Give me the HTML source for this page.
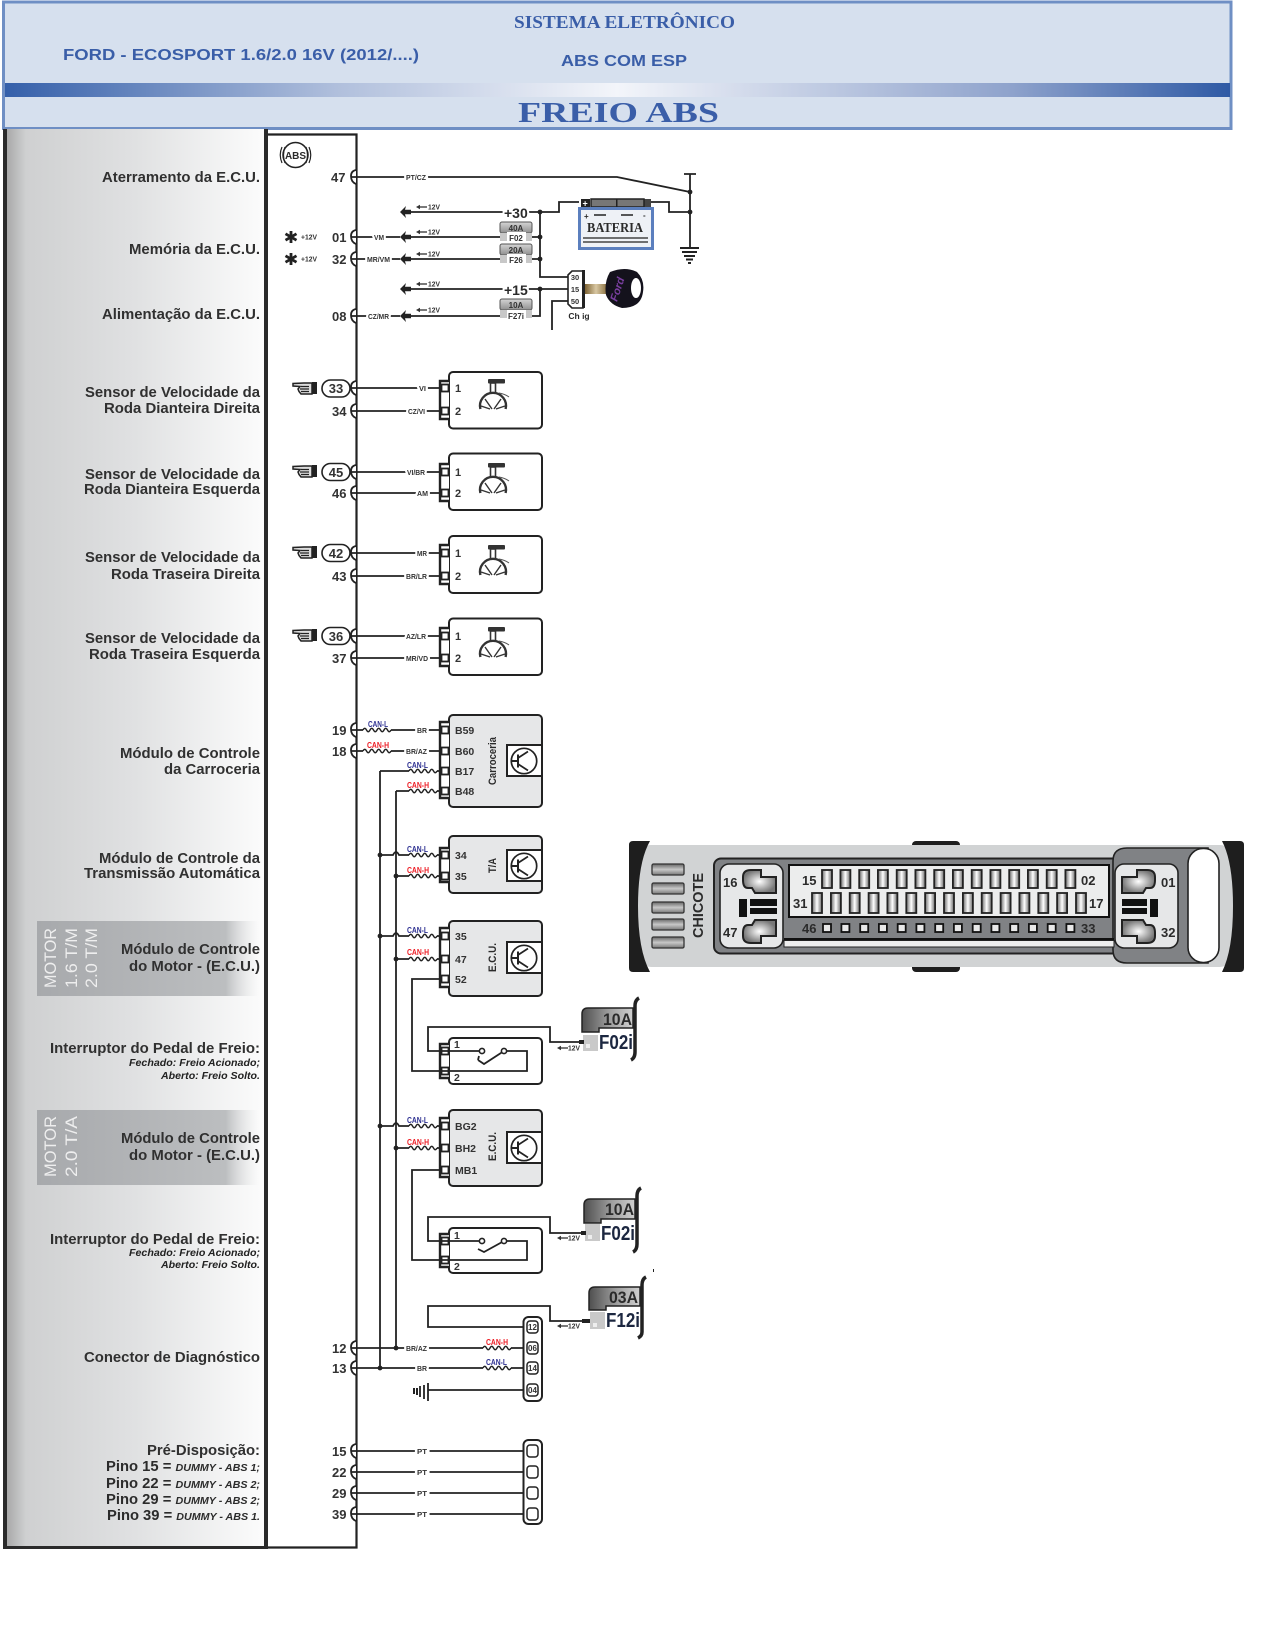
<!DOCTYPE html>
<html><head><meta charset="utf-8"><title>Freio ABS</title>
<style>
html,body{margin:0;padding:0;background:#fff}
svg{display:block}
text{font-family:"Liberation Sans",sans-serif;font-weight:bold;fill:#2b2b2b}
.s{font-family:"Liberation Serif",serif;fill:#3a5ea8}
.h{fill:#3a5ea8}
.l{font-size:14.5px;text-anchor:end;fill:#303030}
.i{font-size:10px;font-style:italic;text-anchor:end;fill:#222}
.p{font-size:13px;fill:#333}
.w{font-size:7.5px;paint-order:stroke;stroke:#fff;stroke-width:5px;fill:#333}
.v{font-size:7.5px;fill:#333}
.m{font-size:11px;fill:#333}
.r{font-size:10.5px;fill:#333}
.cl{font-size:8px;fill:#2e3192}
.ch{font-size:8px;fill:#ed1c24}
.f{font-size:8px;fill:#333}
.b{font-size:17px;fill:#2b2b2b}
.n{font-size:20px;fill:#1c2740}
.mo{font-size:17px;font-weight:normal;fill:#eeeeee}
.c{font-size:13px;fill:#2b2b2b}
.wr{fill:none;stroke:#222;stroke-width:1.8}
</style></head><body>
<svg width="1263" height="1644" viewBox="0 0 1263 1644" xmlns="http://www.w3.org/2000/svg">
<defs>
<linearGradient id="band" x1="0" x2="1" y1="0" y2="0"><stop offset="0" stop-color="#3560aa"/><stop offset=".27" stop-color="#b0bfdc"/><stop offset=".5" stop-color="#f3f5fa"/><stop offset=".82" stop-color="#8fa3cc"/><stop offset="1" stop-color="#2f5aa5"/></linearGradient>
<linearGradient id="panel" x1="0" x2="1" y1="0" y2="0"><stop offset="0" stop-color="#a5a5a5"/><stop offset=".08" stop-color="#cfd0d1"/><stop offset=".5" stop-color="#e0e1e2"/><stop offset="1" stop-color="#fcfcfc"/></linearGradient>
<linearGradient id="mot" x1="0" x2="1" y1="0" y2="0"><stop offset="0" stop-color="#a7a9ac"/><stop offset=".85" stop-color="#bcbec0"/><stop offset="1" stop-color="#e4e5e6" stop-opacity="0"/></linearGradient>
<linearGradient id="fz" x1="0" x2="0" y1="0" y2="1"><stop offset="0" stop-color="#d5d5d5"/><stop offset="1" stop-color="#8f8f8f"/></linearGradient>
<linearGradient id="fb" x1="0" x2="1" y1="0" y2="0"><stop offset="0" stop-color="#4f4f4f"/><stop offset=".55" stop-color="#a0a0a0"/><stop offset="1" stop-color="#d0d0d0"/></linearGradient>
<linearGradient id="key" x1="0" x2="1" y1="0" y2="0"><stop offset="0" stop-color="#7d6233"/><stop offset=".5" stop-color="#d8c7a2"/><stop offset="1" stop-color="#8a7040"/></linearGradient>
<linearGradient id="pin" x1="0" x2="1" y1="0" y2="0"><stop offset="0" stop-color="#6a6a6a"/><stop offset=".5" stop-color="#ffffff"/><stop offset="1" stop-color="#6a6a6a"/></linearGradient>
<linearGradient id="slot" x1="0" x2="0" y1="0" y2="1"><stop offset="0" stop-color="#666"/><stop offset=".5" stop-color="#c8c8c8"/><stop offset="1" stop-color="#777"/></linearGradient>
<radialGradient id="sock"><stop offset="0" stop-color="#ffffff"/><stop offset="1" stop-color="#777"/></radialGradient>
<path id="notch" d="M356-7Q351-6 351-1Q351 5 356 7" fill="#fff" stroke="#222" stroke-width="1.8"/>
<path id="wave" d="M0 0q1.75-3.4 3.5 0t3.5 0 3.5 0 3.5 0 3.5 0 3.5 0 3.5 0 3.5 0" fill="none" stroke="#222" stroke-width="1.4"/>
<polygon id="arw" points="0,0 6,-6 5,-2.200 11,-2.200 11,2.200 5,2.200 6,6" fill="#222"/>
<circle id="dot" r="2.400" fill="#222"/>
<g id="a12"><path d="M2 0H11" stroke="#333" stroke-width="1.300"/><polygon points="0,0 4,-2.200 4,2.200" fill="#333"/></g>
<path id="star" d="M0-6V6M-5.500-3.200L5.500 3.200M-5.500 3.200L5.500-3.200" stroke="#222" stroke-width="2.800"/>
<g id="hand"><rect x="19" y="0" width="5" height="12" fill="#222"/><path d="M19 1H11L0 1.500V4L7 4.500 5 7 6 9.500 8 12H19Z" fill="#ddd" stroke="#222" stroke-width="1.500"/><path d="M8 4.500H16M7 7H16M8 9.500H16" stroke="#222" stroke-width="1.200"/></g>
<g id="wheel"><rect x="-5" y="0" width="17" height="4.500" fill="#333" rx="1"/><rect x="-2.500" y="4" width="5" height="10" fill="#fff" stroke="#333" stroke-width="1.600"/><path d="M-12.600 30A13 13 0 1 1 12.600 30" fill="#fff" stroke="#333" stroke-width="2.400"/><path d="M-8 20L-1 30M8 20L1 30M-12 27L-3 30M12 27L3 30" stroke="#333" stroke-width="1.400"/><path d="M6 14Q12 15 16 18" fill="none" stroke="#555" stroke-width="1"/></g>
<g id="trans"><rect x="0" y="0" width="35" height="31" fill="#fff" stroke="#222" stroke-width="2"/><circle cx="17" cy="16" r="12.700" fill="#fff" stroke="#222" stroke-width="1.700"/><path d="M4.500 16H11M11 9.500V22.500" fill="none" stroke="#222" stroke-width="2"/><path d="M11 13L21 6.500M11 19L21 25.500" fill="none" stroke="#222" stroke-width="1.700"/></g>
<rect id="pn" x="-5" y="0" width="10" height="18" fill="url(#pin)" stroke="#222" stroke-width="1.800"/>
<rect id="pb" x="-5" y="0" width="10" height="20" fill="url(#pin)" stroke="#222" stroke-width="1.800"/>
<rect id="ps" x="-4" y="0" width="8" height="8" fill="#e8e8e8" stroke="#111" stroke-width="1.800"/>
<rect id="sl" x="652" width="32" height="11" rx="1.500" fill="url(#slot)" stroke="#333" stroke-width="1.300"/>
<path id="sk" d="M743 877Q743 870 751 870H761V877H776V893H755L752 888H748Q743 888 743 880Z" fill="url(#sock)" stroke="#222" stroke-width="2"/>
<g id="fs"><rect x="0" y="0" width="32" height="11" rx="2" fill="url(#fz)" stroke="#555"/><rect x="0" y="11" width="7" height="8" fill="#c8c8c8"/><rect x="26" y="11" width="6" height="8" fill="#c8c8c8"/></g>
<rect id="cp" x="-4.500" y="-3.500" width="7" height="7" fill="#fff" stroke="#222" stroke-width="1.800"/>
</defs>

<!-- header -->
<rect x="3.500" y="2" width="1227.500" height="126.500" fill="#d6e0ee" stroke="#6f8fc4" stroke-width="3"/>
<rect x="5" y="83" width="1225" height="14" fill="url(#band)"/>
<text class="s" x="514" y="28" font-size="18" textLength="221" lengthAdjust="spacingAndGlyphs">SISTEMA ELETRÔNICO</text>
<text class="h" x="63" y="60" font-size="16" textLength="356" lengthAdjust="spacingAndGlyphs">FORD - ECOSPORT 1.6/2.0 16V (2012/....)</text>
<text class="h" x="561" y="66" font-size="16" textLength="126" lengthAdjust="spacingAndGlyphs">ABS COM ESP</text>
<text class="s" x="518" y="122" font-size="28" textLength="201" lengthAdjust="spacingAndGlyphs">FREIO ABS</text>

<!-- left panel -->
<rect x="5" y="129" width="260" height="1418" fill="url(#panel)"/>
<rect x="3" y="129" width="4" height="1420" fill="#2a2a2a"/>
<rect x="264" y="129" width="4" height="1420" fill="#2a2a2a"/>
<rect x="3" y="1546" width="265" height="3" fill="#2a2a2a"/>
<path d="M268 134.500H356.500V1547.500H268" fill="none" stroke="#222" stroke-width="2.200"/>

<rect x="37" y="921" width="222" height="75" fill="url(#mot)"/>
<rect x="37" y="1110" width="222" height="75" fill="url(#mot)"/>
<text class="mo" transform="translate(56,988) rotate(-90)" textLength="60" lengthAdjust="spacingAndGlyphs">MOTOR</text>
<text class="mo" transform="translate(77,988) rotate(-90)" textLength="60" lengthAdjust="spacingAndGlyphs">1.6 T/M</text>
<text class="mo" transform="translate(97,988) rotate(-90)" textLength="60" lengthAdjust="spacingAndGlyphs">2.0 T/M</text>
<text class="mo" transform="translate(56,1177) rotate(-90)" textLength="61" lengthAdjust="spacingAndGlyphs">MOTOR</text>
<text class="mo" transform="translate(77,1177) rotate(-90)" textLength="61" lengthAdjust="spacingAndGlyphs">2.0 T/A</text>

<text class="l" x="260" y="182" textLength="158" lengthAdjust="spacingAndGlyphs">Aterramento da E.C.U.</text>
<text class="l" x="260" y="254" textLength="131" lengthAdjust="spacingAndGlyphs">Memória da E.C.U.</text>
<text class="l" x="260" y="319" textLength="158" lengthAdjust="spacingAndGlyphs">Alimentação da E.C.U.</text>
<text class="l" x="260" y="397" textLength="175" lengthAdjust="spacingAndGlyphs">Sensor de Velocidade da</text>
<text class="l" x="260" y="413" textLength="156" lengthAdjust="spacingAndGlyphs">Roda Dianteira Direita</text>
<text class="l" x="260" y="479" textLength="175" lengthAdjust="spacingAndGlyphs">Sensor de Velocidade da</text>
<text class="l" x="260" y="494" textLength="176" lengthAdjust="spacingAndGlyphs">Roda Dianteira Esquerda</text>
<text class="l" x="260" y="562" textLength="175" lengthAdjust="spacingAndGlyphs">Sensor de Velocidade da</text>
<text class="l" x="260" y="579" textLength="149" lengthAdjust="spacingAndGlyphs">Roda Traseira Direita</text>
<text class="l" x="260" y="643" textLength="175" lengthAdjust="spacingAndGlyphs">Sensor de Velocidade da</text>
<text class="l" x="260" y="659" textLength="171" lengthAdjust="spacingAndGlyphs">Roda Traseira Esquerda</text>
<text class="l" x="260" y="758" textLength="140" lengthAdjust="spacingAndGlyphs">Módulo de Controle</text>
<text class="l" x="260" y="774" textLength="96" lengthAdjust="spacingAndGlyphs">da Carroceria</text>
<text class="l" x="260" y="863" textLength="161" lengthAdjust="spacingAndGlyphs">Módulo de Controle da</text>
<text class="l" x="260" y="878" textLength="176" lengthAdjust="spacingAndGlyphs">Transmissão Automática</text>
<text class="l" x="260" y="954" textLength="139" lengthAdjust="spacingAndGlyphs">Módulo de Controle</text>
<text class="l" x="260" y="971" textLength="131" lengthAdjust="spacingAndGlyphs">do Motor - (E.C.U.)</text>
<text class="l" x="260" y="1053" textLength="210" lengthAdjust="spacingAndGlyphs">Interruptor do Pedal de Freio:</text>
<text class="i" x="260" y="1066" textLength="131" lengthAdjust="spacingAndGlyphs">Fechado: Freio Acionado;</text>
<text class="i" x="260" y="1079" textLength="99" lengthAdjust="spacingAndGlyphs">Aberto: Freio Solto.</text>
<text class="l" x="260" y="1143" textLength="139" lengthAdjust="spacingAndGlyphs">Módulo de Controle</text>
<text class="l" x="260" y="1160" textLength="131" lengthAdjust="spacingAndGlyphs">do Motor - (E.C.U.)</text>
<text class="l" x="260" y="1244" textLength="210" lengthAdjust="spacingAndGlyphs">Interruptor do Pedal de Freio:</text>
<text class="i" x="260" y="1256" textLength="131" lengthAdjust="spacingAndGlyphs">Fechado: Freio Acionado;</text>
<text class="i" x="260" y="1268" textLength="99" lengthAdjust="spacingAndGlyphs">Aberto: Freio Solto.</text>
<text class="l" x="260" y="1362" textLength="176" lengthAdjust="spacingAndGlyphs">Conector de Diagnóstico</text>
<text class="l" x="260" y="1455" textLength="113" lengthAdjust="spacingAndGlyphs">Pré-Disposição:</text>
<text x="106" y="1471" font-size="14.500" textLength="154" lengthAdjust="spacingAndGlyphs">Pino 15 = <tspan font-size="10.500" font-style="italic">DUMMY - ABS 1;</tspan></text>
<text x="106" y="1488" font-size="14.500" textLength="154" lengthAdjust="spacingAndGlyphs">Pino 22 = <tspan font-size="10.500" font-style="italic">DUMMY - ABS 2;</tspan></text>
<text x="106" y="1504" font-size="14.500" textLength="154" lengthAdjust="spacingAndGlyphs">Pino 29 = <tspan font-size="10.500" font-style="italic">DUMMY - ABS 2;</tspan></text>
<text x="107" y="1520" font-size="14.500" textLength="153" lengthAdjust="spacingAndGlyphs">Pino 39 = <tspan font-size="10.500" font-style="italic">DUMMY - ABS 1.</tspan></text>

<!-- ABS icon -->
<circle cx="295.500" cy="155" r="12.500" fill="#fff" stroke="#222" stroke-width="1.500"/>
<path d="M282 147Q278.500 155 282 163M285 147Q282 155 285 163M309 147Q312.500 155 309 163M306 147Q309 155 306 163" fill="none" stroke="#222" stroke-width="1.200"/>
<text x="295.500" y="159" font-size="10" text-anchor="middle">ABS</text>

<!-- pin notches -->
<use href="#notch" y="177"/><use href="#notch" y="237"/><use href="#notch" y="259"/><use href="#notch" y="316"/>
<use href="#notch" y="388"/><use href="#notch" y="411"/><use href="#notch" y="472"/><use href="#notch" y="493"/>
<use href="#notch" y="553"/><use href="#notch" y="576"/><use href="#notch" y="636"/><use href="#notch" y="658"/>
<use href="#notch" y="730"/><use href="#notch" y="751"/><use href="#notch" y="1348"/><use href="#notch" y="1368"/>
<use href="#notch" y="1451"/><use href="#notch" y="1472"/><use href="#notch" y="1493"/><use href="#notch" y="1514"/>

<!-- pin numbers -->
<text class="p" x="331" y="182">47</text><text class="p" x="332" y="242">01</text><text class="p" x="332" y="264">32</text><text class="p" x="332" y="321">08</text>
<text class="p" x="332" y="416">34</text><text class="p" x="332" y="498">46</text><text class="p" x="332" y="581">43</text><text class="p" x="332" y="663">37</text>
<text class="p" x="332" y="735">19</text><text class="p" x="332" y="756">18</text><text class="p" x="332" y="1353">12</text><text class="p" x="332" y="1373">13</text>
<text class="p" x="332" y="1456">15</text><text class="p" x="332" y="1477">22</text><text class="p" x="332" y="1498">29</text><text class="p" x="332" y="1519">39</text>
<!-- ovals -->
<g fill="#fff" stroke="#222" stroke-width="1.600">
<rect x="322" y="380" width="28" height="17" rx="8.500"/><rect x="322" y="463.500" width="28" height="17" rx="8.500"/><rect x="322" y="544.500" width="28" height="17" rx="8.500"/><rect x="322" y="627.500" width="28" height="17" rx="8.500"/>
</g>
<text class="p" x="336" y="393" text-anchor="middle">33</text><text class="p" x="336" y="477" text-anchor="middle">45</text><text class="p" x="336" y="558" text-anchor="middle">42</text><text class="p" x="336" y="641" text-anchor="middle">36</text>
<use href="#hand" x="293" y="382"/><use href="#hand" x="293" y="465"/><use href="#hand" x="293" y="546"/><use href="#hand" x="293" y="629"/>

<!-- power section wires -->
<g class="wr">
<path d="M351 177H617L690 192"/><path d="M690 174V248M684 174H696"/>
<path d="M411 212H559V202H579"/><path d="M650 202H669V212H690"/>
<path d="M351 237H400M411 237H540"/><path d="M351 259H400M411 259H540"/><path d="M351 316H400M411 316H540V289"/>
<path d="M411 289H568"/><path d="M540 212V277H568"/><path d="M568 301H552V330"/>
</g>
<path d="M680 248H699M682 252H697" stroke="#222" stroke-width="2"/><path d="M684 256H695M686 259.500H693M688 263H691" stroke="#222" stroke-width="2"/>
<use href="#dot" x="690" y="192"/><use href="#dot" x="690" y="212"/><use href="#dot" x="540" y="212"/><use href="#dot" x="540" y="237"/><use href="#dot" x="540" y="259"/><use href="#dot" x="540" y="289"/>
<use href="#arw" x="400" y="212"/><use href="#arw" x="400" y="237"/><use href="#arw" x="400" y="259"/><use href="#arw" x="400" y="289"/><use href="#arw" x="400" y="316"/>
<use href="#a12" x="416" y="207"/><use href="#a12" x="416" y="232"/><use href="#a12" x="416" y="254"/><use href="#a12" x="416" y="284"/><use href="#a12" x="416" y="310"/>
<text class="v" x="428" y="209.500" textLength="12" lengthAdjust="spacingAndGlyphs">12V</text><text class="v" x="428" y="234.500" textLength="12" lengthAdjust="spacingAndGlyphs">12V</text><text class="v" x="428" y="256.500" textLength="12" lengthAdjust="spacingAndGlyphs">12V</text><text class="v" x="428" y="286.500" textLength="12" lengthAdjust="spacingAndGlyphs">12V</text><text class="v" x="428" y="312.500" textLength="12" lengthAdjust="spacingAndGlyphs">12V</text>
<text x="504" y="218" font-size="14" style="paint-order:stroke;stroke:#fff;stroke-width:4px">+30</text>
<text x="504" y="295" font-size="14" style="paint-order:stroke;stroke:#fff;stroke-width:4px">+15</text>
<text class="w" x="406" y="180" textLength="20" lengthAdjust="spacingAndGlyphs">PT/CZ</text>
<text class="w" x="374" y="240" textLength="10" lengthAdjust="spacingAndGlyphs">VM</text>
<text class="w" x="367" y="262" textLength="23" lengthAdjust="spacingAndGlyphs">MR/VM</text>
<text class="w" x="368" y="319" textLength="21" lengthAdjust="spacingAndGlyphs">CZ/MR</text>
<use href="#star" x="291" y="237"/><use href="#star" x="291" y="259"/>
<text class="v" x="301" y="239.500" textLength="16" lengthAdjust="spacingAndGlyphs">+12V</text><text class="v" x="301" y="261.500" textLength="16" lengthAdjust="spacingAndGlyphs">+12V</text>

<!-- small fuses -->
<use href="#fs" x="500" y="222"/><use href="#fs" x="500" y="244"/><use href="#fs" x="500" y="299"/>
<rect x="507" y="232" width="19" height="10" fill="#fff"/><rect x="507" y="254" width="19" height="10" fill="#fff"/><rect x="507" y="310" width="19" height="10" fill="#fff"/>
<text class="f" x="516" y="231" text-anchor="middle">40A</text><text class="f" x="516" y="253" text-anchor="middle">20A</text><text class="f" x="516" y="308" text-anchor="middle">10A</text>
<text class="f" x="516" y="241" text-anchor="middle" font-size="9">F02</text><text class="f" x="516" y="263" text-anchor="middle" font-size="9">F26</text><text class="f" x="516" y="319" text-anchor="middle" font-size="9">F27i</text>

<!-- battery -->
<rect x="581" y="199" width="9" height="8" fill="#222"/><rect x="644" y="199" width="7" height="8" fill="#444"/>
<rect x="591" y="199" width="53" height="8" fill="#777" stroke="#222" stroke-width="1.500"/><rect x="616" y="199" width="1.500" height="8" fill="#222"/>
<text x="582.500" y="206.500" font-size="9" style="fill:#fff">+</text>
<rect x="579.500" y="208.500" width="73" height="40" fill="#eef1f6" stroke="#5b7fbe" stroke-width="3"/>
<path d="M594 215H606M621 215H633" stroke="#222" stroke-width="1.500"/>
<text x="584" y="219" font-size="8">+</text><text x="643" y="218" font-size="8">-</text>
<text x="615" y="232" font-size="14" text-anchor="middle" textLength="56" lengthAdjust="spacingAndGlyphs" style="font-family:'Liberation Serif',serif">BATERIA</text>
<path d="M583 238H648M583 242H648" stroke="#444" stroke-width="1.500"/>

<!-- ignition + key -->
<rect x="585" y="284" width="22" height="10" fill="url(#key)"/>
<path d="M572 271H583V308H572L568 304V275Z" fill="#fff" stroke="#222" stroke-width="1.600"/><rect x="582" y="270" width="3" height="38" fill="#222"/>
<text class="v" x="575" y="280" text-anchor="middle" font-size="7">30</text><text class="v" x="575" y="292" text-anchor="middle" font-size="7">15</text><text class="v" x="575" y="304" text-anchor="middle" font-size="7">50</text>
<text x="579" y="319" font-size="8.500" text-anchor="middle">Ch ig</text>
<path d="M610 272Q625 266 637 272Q645 280 643 292Q641 308 622 308Q610 305 606 295Q604 282 610 272Z" fill="#14121c"/>
<ellipse cx="636" cy="288" rx="5" ry="10" fill="#fff"/>
<text transform="translate(617,302) rotate(-72)" font-size="11" style="fill:#7a3fa0;font-style:italic">Ford</text>

<!-- sensor wires -->
<g class="wr">
<path d="M351 388H439M351 411H439M351 472H439M351 493H439M351 553H439M351 576H439M351 636H439M351 658H439"/>
</g>
<text class="w" x="419" y="391" textLength="7" lengthAdjust="spacingAndGlyphs">VI</text>
<text class="w" x="408" y="414" textLength="17" lengthAdjust="spacingAndGlyphs">CZ/VI</text>
<text class="w" x="407" y="475" textLength="18" lengthAdjust="spacingAndGlyphs">VI/BR</text>
<text class="w" x="417" y="496" textLength="11" lengthAdjust="spacingAndGlyphs">AM</text>
<text class="w" x="417" y="556" textLength="10" lengthAdjust="spacingAndGlyphs">MR</text>
<text class="w" x="406" y="579" textLength="21" lengthAdjust="spacingAndGlyphs">BR/LR</text>
<text class="w" x="406" y="639" textLength="20" lengthAdjust="spacingAndGlyphs">AZ/LR</text>
<text class="w" x="406" y="661" textLength="22" lengthAdjust="spacingAndGlyphs">MR/VD</text>

<!-- boxes -->
<g fill="#fff" stroke="#222" stroke-width="2">
<rect x="449" y="372" width="93" height="56.500" rx="4"/><rect x="449" y="453.500" width="93" height="56.500" rx="4"/><rect x="449" y="536" width="93" height="57" rx="4"/><rect x="449" y="618.500" width="93" height="56.500" rx="4"/>
<rect x="449" y="715" width="93" height="92" rx="4" fill="#e6e7e8"/><rect x="449" y="836" width="93" height="57" rx="4" fill="#e6e7e8"/><rect x="449" y="921" width="93" height="75" rx="4" fill="#e6e7e8"/><rect x="449" y="1110" width="93" height="76" rx="4" fill="#e6e7e8"/>
<rect x="449" y="1038" width="93" height="46" rx="4"/><rect x="449" y="1228" width="93" height="45" rx="4"/>
</g>
<!-- bracket connectors -->
<g fill="#fff" stroke="#222" stroke-width="2.400">
<path d="M449 381H440V419H449"/><path d="M449 464H440V501H449"/><path d="M449 545H440V584H449"/><path d="M449 628H440V666H449"/>
<path d="M449 722H440V798H449"/><path d="M449 848H440V882H449"/><path d="M449 928H440V987H449"/><path d="M449 1118H440V1177H449"/>
<path d="M449 1044H440V1078H449"/><path d="M449 1234H440V1267H449"/>
</g>
<use href="#cp" x="446" y="388"/><use href="#cp" x="446" y="411"/><use href="#cp" x="446" y="472"/><use href="#cp" x="446" y="493"/><use href="#cp" x="446" y="553"/><use href="#cp" x="446" y="576"/><use href="#cp" x="446" y="636"/><use href="#cp" x="446" y="658"/>
<use href="#cp" x="446" y="730"/><use href="#cp" x="446" y="751"/><use href="#cp" x="446" y="771"/><use href="#cp" x="446" y="791"/>
<use href="#cp" x="446" y="855"/><use href="#cp" x="446" y="876"/><use href="#cp" x="446" y="936"/><use href="#cp" x="446" y="959"/><use href="#cp" x="446" y="979"/>
<use href="#cp" x="446" y="1051"/><use href="#cp" x="446" y="1071"/><use href="#cp" x="446" y="1126"/><use href="#cp" x="446" y="1148"/><use href="#cp" x="446" y="1170"/><use href="#cp" x="446" y="1241"/><use href="#cp" x="446" y="1260"/>

<text class="m" x="455" y="392">1</text><text class="m" x="455" y="415">2</text><text class="m" x="455" y="476">1</text><text class="m" x="455" y="497">2</text><text class="m" x="455" y="557">1</text><text class="m" x="455" y="580">2</text><text class="m" x="455" y="640">1</text><text class="m" x="455" y="662">2</text>
<use href="#wheel" x="493" y="379"/><use href="#wheel" x="493" y="463"/><use href="#wheel" x="493" y="545"/><use href="#wheel" x="493" y="627"/>

<!-- module text -->
<text class="r" x="455" y="734">B59</text><text class="r" x="455" y="755">B60</text><text class="r" x="455" y="775">B17</text><text class="r" x="455" y="795">B48</text>
<text class="r" x="455" y="859">34</text><text class="r" x="455" y="880">35</text>
<text class="r" x="455" y="940">35</text><text class="r" x="455" y="963">47</text><text class="r" x="455" y="983">52</text>
<text class="r" x="455" y="1130">BG2</text><text class="r" x="455" y="1152">BH2</text><text class="r" x="455" y="1174">MB1</text>
<text transform="translate(496,785) rotate(-90)" font-size="11" textLength="48" lengthAdjust="spacingAndGlyphs">Carroceria</text>
<text transform="translate(496,873) rotate(-90)" font-size="11" textLength="15" lengthAdjust="spacingAndGlyphs">T/A</text>
<text transform="translate(496,972) rotate(-90)" font-size="11" textLength="29" lengthAdjust="spacingAndGlyphs">E.C.U.</text>
<text transform="translate(496,1161) rotate(-90)" font-size="11" textLength="29" lengthAdjust="spacingAndGlyphs">E.C.U.</text>
<use href="#trans" x="507" y="745"/><use href="#trans" x="507" y="850"/><use href="#trans" x="507" y="942"/><use href="#trans" x="507" y="1132"/>

<!-- CAN wires -->
<g class="wr">
<path d="M380 771V1368M396 791V1348"/>
<path d="M351 730H363M391 730H439M351 751H363M391 751H439"/>
<path d="M380 771H409M437 771H439M396 791H409M437 791H439"/>
<path d="M380 855H393Q396 849 399 855H409M437 855H439M396 876H409M437 876H439"/>
<path d="M380 936H393Q396 930 399 936H409M437 936H439M396 959H409M437 959H439"/>
<path d="M380 1126H393Q396 1120 399 1126H409M437 1126H439M396 1148H409M437 1148H439"/>
<path d="M439 979H412V1071H527V1051H504M482 1051H439"/>
<path d="M439 1051H428V1027H550V1042H583"/>
<path d="M439 1170H412V1260H527V1241H504M482 1241H439"/>
<path d="M439 1241H428V1217H550V1233H584"/>
<path d="M523 1327H428V1306H550V1321H582"/>
<path d="M351 1348H483M511 1348H523M351 1368H483M511 1368H523"/>
<path d="M428 1390H523"/>
<path d="M351 1451H523M351 1472H523M351 1493H523M351 1514H523"/>
</g>
<path d="M504 1051L484 1064L478 1060M478 1060L479 1056" fill="none" stroke="#222" stroke-width="1.800"/>
<path d="M504 1241L484 1252L478 1249" fill="none" stroke="#222" stroke-width="1.800"/>
<g fill="#fff" stroke="#222" stroke-width="1.600"><circle cx="482" cy="1051" r="2.600"/><circle cx="504" cy="1051" r="2.600"/><circle cx="482" cy="1241" r="2.600"/><circle cx="504" cy="1241" r="2.600"/></g>
<text class="r" x="454" y="1048">1</text><text class="r" x="454" y="1081">2</text><text class="r" x="454" y="1239">1</text><text class="r" x="454" y="1270">2</text>
<use href="#wave" x="363" y="730"/><use href="#wave" x="363" y="751"/><use href="#wave" x="409" y="771"/><use href="#wave" x="409" y="791"/><use href="#wave" x="409" y="855"/><use href="#wave" x="409" y="876"/><use href="#wave" x="409" y="936"/><use href="#wave" x="409" y="959"/><use href="#wave" x="409" y="1126"/><use href="#wave" x="409" y="1148"/><use href="#wave" x="483" y="1348"/><use href="#wave" x="483" y="1368"/>
<text class="cl" x="368" y="727" textLength="20" lengthAdjust="spacingAndGlyphs">CAN-L</text><text class="ch" x="367" y="748" textLength="22" lengthAdjust="spacingAndGlyphs">CAN-H</text>
<text class="cl" x="407" y="768" textLength="21" lengthAdjust="spacingAndGlyphs">CAN-L</text><text class="ch" x="407" y="788" textLength="22" lengthAdjust="spacingAndGlyphs">CAN-H</text>
<text class="cl" x="407" y="852" textLength="21" lengthAdjust="spacingAndGlyphs">CAN-L</text><text class="ch" x="407" y="873" textLength="22" lengthAdjust="spacingAndGlyphs">CAN-H</text>
<text class="cl" x="407" y="933" textLength="21" lengthAdjust="spacingAndGlyphs">CAN-L</text><text class="ch" x="407" y="955" textLength="22" lengthAdjust="spacingAndGlyphs">CAN-H</text>
<text class="cl" x="407" y="1123" textLength="21" lengthAdjust="spacingAndGlyphs">CAN-L</text><text class="ch" x="407" y="1145" textLength="22" lengthAdjust="spacingAndGlyphs">CAN-H</text>
<text class="ch" x="486" y="1345" textLength="22" lengthAdjust="spacingAndGlyphs">CAN-H</text><text class="cl" x="486" y="1365" textLength="21" lengthAdjust="spacingAndGlyphs">CAN-L</text>
<text class="w" x="417" y="733" textLength="10" lengthAdjust="spacingAndGlyphs">BR</text><text class="w" x="406" y="754" textLength="21" lengthAdjust="spacingAndGlyphs">BR/AZ</text>
<text class="w" x="406" y="1351" textLength="21" lengthAdjust="spacingAndGlyphs">BR/AZ</text><text class="w" x="417" y="1371" textLength="10" lengthAdjust="spacingAndGlyphs">BR</text>
<text class="w" x="417" y="1454" textLength="10" lengthAdjust="spacingAndGlyphs">PT</text><text class="w" x="417" y="1475" textLength="10" lengthAdjust="spacingAndGlyphs">PT</text><text class="w" x="417" y="1496" textLength="10" lengthAdjust="spacingAndGlyphs">PT</text><text class="w" x="417" y="1517" textLength="10" lengthAdjust="spacingAndGlyphs">PT</text>
<use href="#dot" x="380" y="855"/><use href="#dot" x="396" y="876"/><use href="#dot" x="380" y="936"/><use href="#dot" x="396" y="959"/><use href="#dot" x="380" y="1126"/><use href="#dot" x="396" y="1148"/><use href="#dot" x="396" y="1348"/><use href="#dot" x="380" y="1368"/>
<path d="M428 1383V1401M424 1385V1399M420 1386V1397" stroke="#222" stroke-width="1.800"/><path d="M417 1388V1395M414 1388V1394" stroke="#222" stroke-width="2"/>

<!-- diagnostic connector -->
<rect x="523.500" y="1317" width="18.500" height="84" rx="5" fill="#fff" stroke="#222" stroke-width="2"/>
<rect x="527" y="1321" width="11" height="12" rx="3" fill="#fff" stroke="#222" stroke-width="1.500"/><rect x="527" y="1342" width="11" height="12" rx="3" fill="#fff" stroke="#222" stroke-width="1.500"/><rect x="527" y="1362" width="11" height="12" rx="3" fill="#fff" stroke="#222" stroke-width="1.500"/><rect x="527" y="1384" width="11" height="12" rx="3" fill="#fff" stroke="#222" stroke-width="1.500"/>
<text class="f" x="532.500" y="1330" text-anchor="middle">12</text><text class="f" x="532.500" y="1351" text-anchor="middle">06</text><text class="f" x="532.500" y="1371" text-anchor="middle">14</text><text class="f" x="532.500" y="1393" text-anchor="middle">04</text>
<rect x="523.500" y="1440" width="18.500" height="84" rx="5" fill="#fff" stroke="#222" stroke-width="2"/>
<rect x="527" y="1445" width="11" height="12" rx="3" fill="#fff" stroke="#222" stroke-width="1.500"/><rect x="527" y="1466" width="11" height="12" rx="3" fill="#fff" stroke="#222" stroke-width="1.500"/><rect x="527" y="1487" width="11" height="12" rx="3" fill="#fff" stroke="#222" stroke-width="1.500"/><rect x="527" y="1508" width="11" height="12" rx="3" fill="#fff" stroke="#222" stroke-width="1.500"/>

<!-- large fuses -->
<path d="M582 1032V1014Q582 1008 588 1008H633V1028H599V1032Z" fill="url(#fb)" stroke="#222" stroke-width="1.500"/>
<rect x="583" y="1035" width="15" height="16" fill="#c9c9c9"/><rect x="586" y="1044" width="4" height="4" fill="#eee"/>
<rect x="579" y="1040" width="5" height="4" fill="#222"/>
<text class="b" x="603" y="1025" textLength="29" lengthAdjust="spacingAndGlyphs">10A</text><text class="n" x="599" y="1049" textLength="34" lengthAdjust="spacingAndGlyphs">F02i</text>
<path d="M639 998Q635 1000 635 1006V1052Q635 1058 631 1060" fill="none" stroke="#222" stroke-width="3.500"/>
<use href="#a12" x="557" y="1048"/><text class="v" x="568" y="1050.500" textLength="12" lengthAdjust="spacingAndGlyphs">12V</text>

<path d="M584 1223V1205Q584 1199 590 1199H635V1219H601V1223Z" fill="url(#fb)" stroke="#222" stroke-width="1.500"/>
<rect x="585" y="1224" width="15" height="17" fill="#c9c9c9"/><rect x="588" y="1235" width="4" height="4" fill="#eee"/>
<rect x="581" y="1231" width="5" height="4" fill="#222"/>
<text class="b" x="605" y="1215" textLength="29" lengthAdjust="spacingAndGlyphs">10A</text><text class="n" x="601" y="1240" textLength="34" lengthAdjust="spacingAndGlyphs">F02i</text>
<path d="M641 1188Q637 1190 637 1196V1244Q637 1250 633 1252" fill="none" stroke="#222" stroke-width="3.500"/>
<use href="#a12" x="557" y="1238"/><text class="v" x="568" y="1240.500" textLength="12" lengthAdjust="spacingAndGlyphs">12V</text>

<path d="M589 1310V1293Q589 1287 595 1287H640V1306H606V1310Z" fill="url(#fb)" stroke="#222" stroke-width="1.500"/>
<rect x="590" y="1312" width="15" height="17" fill="#c9c9c9"/><rect x="593" y="1323" width="4" height="4" fill="#eee"/>
<rect x="582" y="1319" width="8" height="4" fill="#222"/>
<text class="b" x="609" y="1303" textLength="29" lengthAdjust="spacingAndGlyphs">03A</text><text class="n" x="606" y="1327" textLength="34" lengthAdjust="spacingAndGlyphs">F12i</text>
<path d="M646 1277Q642 1279 642 1285V1332Q642 1336 638 1338" fill="none" stroke="#222" stroke-width="3.500"/>
<use href="#a12" x="557" y="1326"/><text class="v" x="568" y="1328.500" textLength="12" lengthAdjust="spacingAndGlyphs">12V</text>
<rect x="653" y="1269" width="1" height="3" fill="#222"/>

<!-- CHICOTE connector -->
<rect x="912" y="841" width="48" height="10" rx="4" fill="#1e1e1e"/><rect x="912" y="962" width="48" height="10" rx="4" fill="#1e1e1e"/>
<rect x="637" y="845" width="597" height="122" rx="14" fill="#d1d3d4"/>
<path d="M650 841H633Q629 841 629 845V968Q629 972 633 972H650Q638 950 638 906Q638 862 650 841Z" fill="#1e1e1e"/>
<path d="M1222 841H1240Q1244 841 1244 845V968Q1244 972 1240 972H1222Q1233 950 1233 906Q1233 862 1222 841Z" fill="#1e1e1e"/>
<use href="#sl" y="864"/><use href="#sl" y="883"/><use href="#sl" y="902"/><use href="#sl" y="919"/><use href="#sl" y="937"/>
<text transform="translate(703,938) rotate(-90)" font-size="15" textLength="65" lengthAdjust="spacingAndGlyphs">CHICOTE</text>
<rect x="714" y="858.500" width="410" height="95" rx="7" fill="#808285" stroke="#222" stroke-width="2"/>
<path d="M1127 848H1208V963H1127Q1113 963 1113 950V861Q1113 848 1127 848Z" fill="#808285" stroke="#222" stroke-width="1.600"/>
<rect x="1188" y="848.500" width="31" height="114" rx="15" fill="#fff" stroke="#222" stroke-width="1.600"/>
<rect x="720" y="864" width="63" height="84" rx="9" fill="#e6e7e8" stroke="#222" stroke-width="1.600"/>
<rect x="1115" y="864" width="63" height="84" rx="9" fill="#e6e7e8" stroke="#222" stroke-width="1.600"/>
<rect x="789" y="865" width="320" height="52" fill="#eceded" stroke="#111" stroke-width="2"/>
<rect x="784" y="938" width="330" height="2.500" fill="#111"/>
<rect x="784" y="940.500" width="330" height="6.500" fill="#eee" stroke="#222"/>
<use href="#sk"/><use href="#sk" transform="matrix(1 0 0 -1 0 1813)"/>
<use href="#sk" transform="matrix(-1 0 0 1 1898 0)"/><use href="#sk" transform="matrix(-1 0 0 -1 1898 1813)"/>
<g fill="#111"><rect x="739" y="899" width="8" height="18"/><rect x="750" y="899" width="27" height="7"/><rect x="750" y="908" width="27" height="6"/>
<rect x="1150" y="899" width="8" height="18"/><rect x="1122" y="899" width="25" height="7"/><rect x="1122" y="908" width="25" height="6"/></g>
<use href="#pn" x="827" y="870"/><use href="#pn" x="845.400" y="870"/><use href="#pn" x="864.200" y="870"/><use href="#pn" x="882.900" y="870"/><use href="#pn" x="901.700" y="870"/><use href="#pn" x="920.400" y="870"/><use href="#pn" x="939.200" y="870"/><use href="#pn" x="957.900" y="870"/><use href="#pn" x="976.700" y="870"/><use href="#pn" x="995.400" y="870"/><use href="#pn" x="1014.200" y="870"/><use href="#pn" x="1032.900" y="870"/><use href="#pn" x="1051.700" y="870"/><use href="#pn" x="1070.400" y="870"/>
<use href="#pb" x="817" y="893"/><use href="#pb" x="835.900" y="893"/><use href="#pb" x="854.700" y="893"/><use href="#pb" x="873.600" y="893"/><use href="#pb" x="892.400" y="893"/><use href="#pb" x="911.300" y="893"/><use href="#pb" x="930.100" y="893"/><use href="#pb" x="949" y="893"/><use href="#pb" x="967.900" y="893"/><use href="#pb" x="986.700" y="893"/><use href="#pb" x="1005.600" y="893"/><use href="#pb" x="1024.400" y="893"/><use href="#pb" x="1043.300" y="893"/><use href="#pb" x="1062.100" y="893"/><use href="#pb" x="1081" y="893"/>
<use href="#ps" x="827" y="924"/><use href="#ps" x="845.400" y="924"/><use href="#ps" x="864.200" y="924"/><use href="#ps" x="882.900" y="924"/><use href="#ps" x="901.700" y="924"/><use href="#ps" x="920.400" y="924"/><use href="#ps" x="939.200" y="924"/><use href="#ps" x="957.900" y="924"/><use href="#ps" x="976.700" y="924"/><use href="#ps" x="995.400" y="924"/><use href="#ps" x="1014.200" y="924"/><use href="#ps" x="1032.900" y="924"/><use href="#ps" x="1051.700" y="924"/><use href="#ps" x="1070.400" y="924"/>
<text class="c" x="802" y="885">15</text><text class="c" x="1081" y="885">02</text><text class="c" x="793" y="908">31</text><text class="c" x="1089" y="908">17</text><text class="c" x="802" y="933">46</text><text class="c" x="1081" y="933">33</text>
<text class="c" x="723" y="887">16</text><text class="c" x="723" y="937">47</text><text class="c" x="1161" y="887">01</text><text class="c" x="1161" y="937">32</text>
</svg>
</body></html>
